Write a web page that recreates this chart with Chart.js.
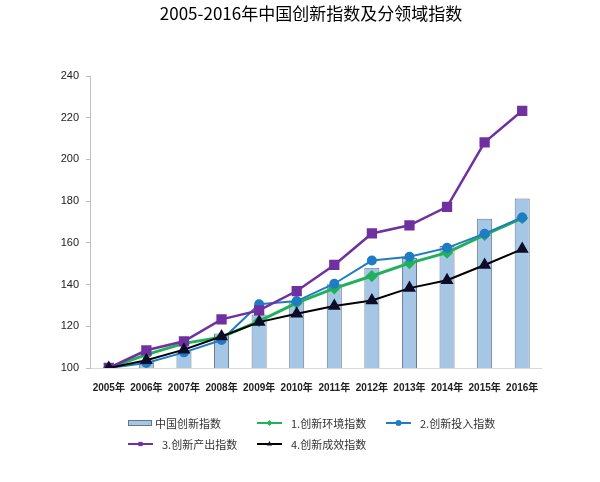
<!DOCTYPE html>
<html>
<head>
<meta charset="utf-8">
<script src="https://cdn.jsdelivr.net/npm/chart.js@4.4.1/dist/chart.umd.min.js"></script>
<style>
  html, body { margin: 0; padding: 0; background: #fff; }
  canvas { display: block; }
</style>
</head>
<body>
<canvas id="chart" width="600" height="482"></canvas>
<script>
// data
const years = ["2005年", "2006年", "2007年", "2008年", "2009年", "2010年",
               "2011年", "2012年", "2013年", "2014年", "2015年", "2016年"];
const chinaIndex  = [100, 103.2, 108.0, 116.5, 125.7, 132.1, 140.1, 148.1, 152.7, 158.5, 171.6, 181.3];
const envIndex    = [100, 106.4, 111.8, 114.8, 122.5, 131.2, 138.2, 144.1, 150.3, 155.3, 163.8, 171.9];
const inputIndex  = [100, 102.4, 107.5, 113.4, 130.6, 132.1, 140.4, 151.5, 153.3, 157.6, 164.4, 172.2];
const outputIndex = [100, 108.5, 112.8, 123.3, 127.6, 136.9, 149.4, 164.5, 168.4, 177.3, 208.2, 223.3];
const effectIndex = [100, 103.7, 108.8, 115.1, 122.0, 126.0, 129.7, 132.4, 138.3, 142.1, 149.4, 157.0];

const titleText = "2005-2016年中国创新指数及分领域指数";
const cjk = '"Noto Sans CJK SC", sans-serif';

// title + Excel-style legend laid out in fixed columns
const titleLegend = {
  id: "titleLegend",
  afterDraw(chart) {
    const ctx = chart.ctx;
    const ds = chart.data.datasets;
    ctx.save();
    ctx.fillStyle = "#000";
    ctx.font = "17px " + cjk;
    ctx.textAlign = "center";
    ctx.textBaseline = "middle";
    ctx.fillText(titleText, 311, 14);

    const left = 128, colW = 129, rows = [423, 444];
    const slots = [[0, 0, 0], [1, 1, 0], [2, 2, 0], [3, 0, 1], [4, 1, 1]]; // dataset, col, row
    ctx.font = "11px " + cjk;
    ctx.textAlign = "left";
    slots.forEach(([i, col, row]) => {
      const d = ds[i];
      const x = left + col * colW, y = rows[row];
      if (d.type === "bar") {
        ctx.fillStyle = d.backgroundColor;
        ctx.strokeStyle = d.borderColor;
        ctx.lineWidth = 1;
        ctx.fillRect(x, y - 3, 24, 6);
        ctx.strokeRect(x + 0.5, y - 2.5, 23, 5);
        ctx.fillStyle = "#333";
        ctx.fillText(d.label, x + 27, y + 1);
      } else {
        ctx.strokeStyle = d.borderColor;
        ctx.lineWidth = 2;
        ctx.beginPath();
        ctx.moveTo(x, y);
        ctx.lineTo(x + 25, y);
        ctx.stroke();
        ctx.fillStyle = d.pointBackgroundColor;
        ctx.strokeStyle = d.pointBorderColor;
        ctx.lineWidth = 1;
        Chart.helpers.drawPoint(ctx, { pointStyle: d.pointStyle, radius: 3, rotation: 0, borderWidth: 0 }, x + 12.5, y);
        ctx.fillStyle = "#333";
        ctx.fillText(d.label, x + 34, y + 1);
      }
    });
    ctx.restore();
  }
};

new Chart(document.getElementById("chart"), {
  type: "bar",
  data: {
    labels: years,
    datasets: [
      {
        type: "bar", label: "中国创新指数", data: chinaIndex, order: 5,
        backgroundColor: "#a6c6e6", borderColor: "#66788e", borderWidth: 1,
        barPercentage: 0.4, categoryPercentage: 1
      },
      {
        type: "line", label: "1.创新环境指数", data: envIndex, order: 4,
        borderColor: "#20b15a", borderWidth: 3, tension: 0,
        pointStyle: "rectRot", pointRadius: 4,
        pointBackgroundColor: "#20b15a", pointBorderColor: "#20b15a"
      },
      {
        type: "line", label: "2.创新投入指数", data: inputIndex, order: 3,
        borderColor: "#1f7cc4", borderWidth: 2, tension: 0,
        pointStyle: "circle", pointRadius: 4,
        pointBackgroundColor: "#1f7cc4", pointBorderColor: "#1f7cc4"
      },
      {
        type: "line", label: "3.创新产出指数", data: outputIndex, order: 2,
        borderColor: "#7030a0", borderWidth: 2.5, tension: 0,
        pointStyle: "rect", pointRadius: 5.5,
        pointBackgroundColor: "#7030a0", pointBorderColor: "#7030a0"
      },
      {
        type: "line", label: "4.创新成效指数", data: effectIndex, order: 1,
        borderColor: "#000000", borderWidth: 2, tension: 0,
        pointStyle: "triangle", pointRadius: 5.5,
        pointBackgroundColor: "#0d0d2a", pointBorderColor: "#0d0d2a"
      }
    ]
  },
  options: {
    responsive: false,
    animation: false,
    layout: { padding: { top: 76, left: 40, right: 59, bottom: 74 } },
    plugins: {
      legend: { display: false },
      title: { display: false },
      tooltip: { enabled: false }
    },
    scales: {
      x: {
        grid: { display: false, drawTicks: false },
        border: { color: "#d9d9d9", width: 1 },
        ticks: {
          color: "#222", padding: 14, maxRotation: 0, autoSkip: false,
          font: { family: '"Liberation Sans", "Noto Sans CJK SC"', size: 10, weight: "bold" }
        }
      },
      y: {
        min: 100, max: 240,
        ticks: {
          stepSize: 20, color: "#222", padding: 7,
          font: { family: '"Liberation Sans"', size: 11 }
        },
        grid: { drawOnChartArea: false, drawTicks: true, tickLength: 4, color: "#bfbfbf" },
        border: { color: "#bfbfbf", width: 1 },
        afterFit(scale) { scale.width = 50; }
      }
    }
  },
  plugins: [titleLegend]
});
</script>
</body>
</html>
